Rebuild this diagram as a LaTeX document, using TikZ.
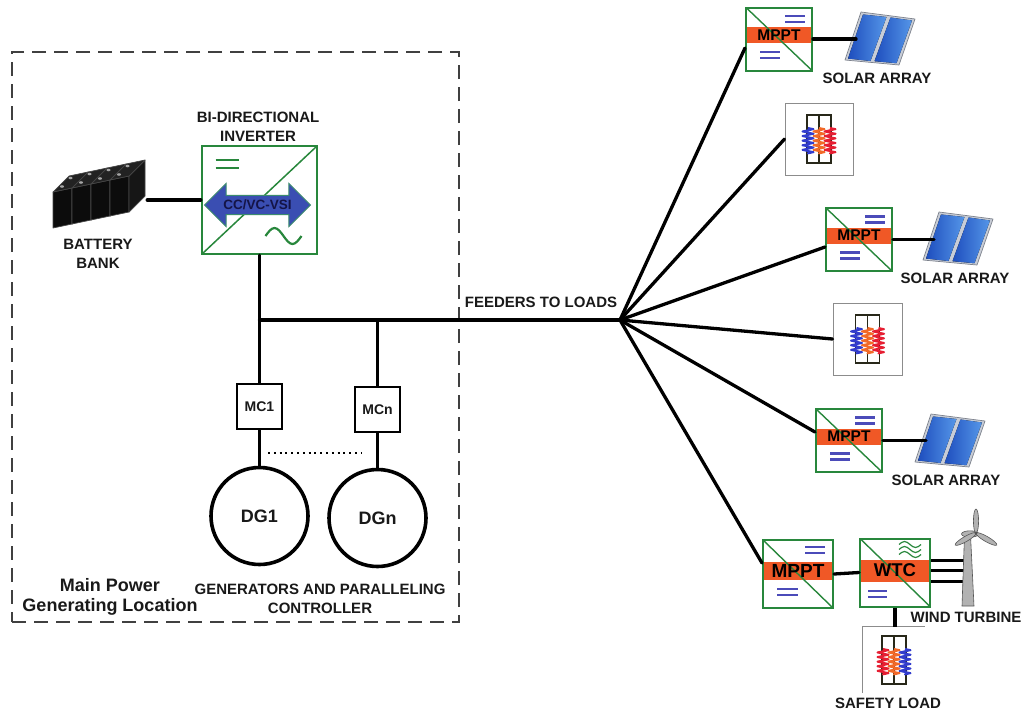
\documentclass[tikz,border=0pt]{standalone}
\usepackage{fontspec}
\setmainfont{Liberation Sans}
\usetikzlibrary{calc,shapes.arrows,shapes.geometric,decorations.pathmorphing}

\definecolor{cgreen}{RGB}{40,135,60}
\definecolor{corange}{RGB}{240,88,38}
\definecolor{cbar}{RGB}{75,75,185}
\definecolor{zblue}{RGB}{50,60,205}
\definecolor{zorange}{RGB}{242,105,40}
\definecolor{zred}{RGB}{230,30,50}
\definecolor{arrowblue}{RGB}{58,78,178}
\definecolor{arrowedge}{RGB}{60,140,110}
\definecolor{navy}{RGB}{20,20,70}
\definecolor{txt}{RGB}{25,25,25}
\definecolor{framegray}{RGB}{140,140,140}
\definecolor{heatframe}{RGB}{40,40,25}
\definecolor{batfront}{RGB}{12,12,12}
\definecolor{battop}{RGB}{34,34,34}
\definecolor{batside}{RGB}{22,22,22}
\definecolor{batedge}{RGB}{70,70,70}
\definecolor{panelframe}{RGB}{200,205,215}
\definecolor{paneledge}{RGB}{125,130,140}
\definecolor{cellA}{RGB}{30,78,190}
\definecolor{cellB}{RGB}{85,150,232}
\definecolor{turbfill}{RGB}{178,178,178}
\definecolor{turbedge}{RGB}{85,85,85}

\tikzset{
  wire/.style={line width=3.3pt, black, line cap=round, line join=round},
  lbl/.style={font=\fontsize{15}{19}\selectfont\bfseries, text=txt, align=center, inner sep=0pt},
  conv/.style={draw=cgreen, line width=2pt, fill=white, inner sep=0pt},
  mpptbox/.style={conv, minimum width=66pt, minimum height=63pt,
    path picture={
      \fill[corange] ($(path picture bounding box.west)+(0,-12)$) rectangle ($(path picture bounding box.east)+(0,4)$);
      \draw[cgreen, line width=1.4pt] (path picture bounding box.north west) -- (path picture bounding box.south east);
      \begin{scope}[shift={(path picture bounding box.center)}]
        \draw[cbar, line width=2.2pt] (6,-23) -- (26,-23) (6,-17) -- (26,-17)
                                      (-19,13) -- (1,13) (-19,19) -- (1,19);
      \end{scope}
    }},
  bigbox/.style={conv, minimum width=70pt, minimum height=68pt},
  mpptbig/.style={bigbox,
    path picture={
      \fill[corange] ($(path picture bounding box.west)+(0,-12)$) rectangle ($(path picture bounding box.east)+(0,6)$);
      \draw[cgreen, line width=1.4pt] (path picture bounding box.north west) -- (path picture bounding box.south east);
      \begin{scope}[shift={(path picture bounding box.center)}]
        \draw[cbar, line width=2.2pt] (7,-27) -- (27,-27) (7,-21) -- (27,-21)
                                      (-21,15) -- (0,15) (-21,21) -- (0,21);
      \end{scope}
    }},
  wtcbox/.style={bigbox,
    path picture={
      \fill[corange] ($(path picture bounding box.west)+(0,-13)$) rectangle ($(path picture bounding box.east)+(0,9)$);
      \draw[cgreen, line width=1.4pt] (path picture bounding box.north west) -- (path picture bounding box.south east);
      \begin{scope}[shift={(path picture bounding box.center)}]
        \foreach \yy in {-28,-23,-18}
          \draw[cgreen, line width=1.2pt] (4,\yy) sin (9.5,\yy-3) cos (15,\yy) sin (20.5,\yy+3) cos (26,\yy);
        \draw[cbar, line width=2.2pt] (-27,18.5) -- (-8,18.5) (-27,24.5) -- (-8,24.5);
      \end{scope}
    }},
  invbox/.style={conv, line width=2.4pt, minimum width=115pt, minimum height=108pt,
    path picture={
      \draw[cgreen, line width=1.5pt] (path picture bounding box.south west) -- (path picture bounding box.north east);
      \begin{scope}[shift={(path picture bounding box.center)}]
        \draw[cgreen, line width=2.2pt] (-44,-40) -- (-21,-40) (-44,-32) -- (-21,-32);
        \draw[cgreen, line width=2.2pt] (6,36) sin (15,28) cos (24,36) sin (33,44) cos (42,36);
      \end{scope}
    }},
  boxlbl/.style={font=\fontsize{15.5}{15.5}\selectfont\bfseries, text=black, inner sep=0pt},
  mcbox/.style={draw, line width=1.5pt, minimum size=45pt, inner sep=0pt, fill=white,
    font=\fontsize{14}{14}\selectfont\bfseries, text=txt},
  dg/.style={circle, draw, line width=3.6pt, minimum size=97pt, inner sep=0pt,
    font=\fontsize{18}{18}\selectfont\bfseries, text=txt},
  loadbox/.style={draw=framegray, line width=0.9pt, fill=white, inner sep=0pt},
  zone/.style={draw=black!75, dash pattern=on 14pt off 8pt, line width=1.4pt, inner sep=0pt,
    minimum width=447pt, minimum height=570pt},
  heater/.pic={
    \draw[heatframe, line width=1.7pt] (-12,-24) rectangle (12,24) (0,-24) -- (0,24);
    \foreach \c [count=\k from 0] in {#1}
      \draw[\c, line width=2pt, line join=round, decorate,
            decoration={zigzag, segment length=4.6pt, amplitude=5.5pt}]
        ({-11+11*\k},-11) -- ({-11+11*\k},15);
  },
  solarpanel/.pic={
    \filldraw[fill=panelframe, draw=paneledge, line width=0.7pt, line join=round]
      (0,0) -- (54,5) -- (70,-41) -- (16,-48) -- cycle;
    \fill[left color=cellA, right color=cellB] (3,-1.5) -- (25.5,1) -- (41.5,-43) -- (18,-45.5) -- cycle;
    \fill[left color=cellA, right color=cellB] (29.5,1.2) -- (51.5,3.2) -- (67,-39.5) -- (45.5,-42.5) -- cycle;
    \coordinate (-in) at (11,-22);
  }
}

\begin{document}
\begin{tikzpicture}[x=1pt,y=-1pt]
\useasboundingbox (0,0) rectangle (1026,713);

% ---------- main power generating location ----------
\node[zone] (zone) at (235.5,337) {};

% battery bank: four cells in a row
\node[minimum width=94pt, minimum height=64pt, inner sep=0pt] (bat) at (100,196) {};
\foreach \i in {0,1,2,3}{
  \begin{scope}[shift={({53+19*\i},{228-4*\i})}]
    \filldraw[fill=batfront, draw=batedge, line width=0.7pt, line join=round]
      (0,0) -- (19,-4) -- (19,-40) -- (0,-36) -- cycle;
    \filldraw[fill=batside, draw=batedge, line width=0.7pt, line join=round]
      (19,-4) -- (35,-20) -- (35,-56) -- (19,-40) -- cycle;
    \filldraw[fill=battop, draw=batedge, line width=0.7pt, line join=round]
      (0,-36) -- (19,-40) -- (35,-56) -- (16,-52) -- cycle;
    \fill[gray!70] (9,-41.5) ellipse (2 and 1.3) (17.5,-50) ellipse (2 and 1.3);
  \end{scope}
}
\node[lbl] (batlbl) at (98,254) {BATTERY\\BANK};

% bi-directional inverter
\node[invbox] (inv) at (259.5,200) {};
\node[double arrow, fill=arrowblue, draw=arrowedge, line width=1pt,
      minimum height=106pt, double arrow head extend=12pt, inner xsep=1pt, inner ysep=4pt,
      font=\fontsize{13.5}{13.5}\selectfont\bfseries, text=navy] (arr) at (257.5,205) {CC/VC-VSI};
\node[lbl] (invlbl) at (258,127) {BI-DIRECTIONAL\\INVERTER};

\draw[wire] (inv.west -| bat.east) -- (inv.west);

% AC bus and generator branches
\coordinate (hub) at (620,320);
\coordinate (j1) at (inv.south |- hub);
\node[mcbox] (mc1) at (259.5,406.5) {MC1};
\node[mcbox] (mcn) at (377.5,409.5) {MCn};
\coordinate (j2) at (mcn.north |- hub);
\node[dg] (dg1) at (259.5,516) {DG1};
\node[dg] (dgn) at (377.5,518) {DGn};

\draw[wire] (inv.south) -- (j1);
\draw[wire] (j1) -- (hub);
\draw[wire] (j1) -- (mc1.north);
\draw[wire] (j2) -- (mcn.north);
\draw[wire] (mc1.south) -- (dg1.north);
\draw[wire] (mcn.south) -- (dgn.north);

\coordinate (dotA) at (268,453);
\coordinate (dotB) at (362,453);
\draw[line width=1.7pt, dash pattern=on 2pt off 3.8pt] (dotA) -- (dotB);

\node[font=\fontsize{18}{20}\selectfont\bfseries, text=txt, align=center, inner sep=0pt]
  (mainlbl) at (110,597) {Main Power\\Generating Location};
\node[lbl] (genlbl) at (320,599) {GENERATORS AND PARALLELING\\CONTROLLER};

\node[lbl] (feedlbl) at (541,302) {FEEDERS TO LOADS};

% ---------- distributed sources and loads ----------
\node[mpptbox] (m1) at (779,39) {};
\node[boxlbl] (m1t) at ([yshift=4pt]m1.center) {MPPT};
\node[loadbox, minimum width=68pt, minimum height=72pt] (l1) at (819,139) {};
\pic at (l1) {heater={zblue,zorange,zred}};
\node[mpptbox] (m2) at (859,239.5) {};
\node[boxlbl] (m2t) at ([yshift=4pt]m2.center) {MPPT};
\node[loadbox, minimum width=69pt, minimum height=72pt] (l2) at (867.5,339) {};
\pic at (l2) {heater={zblue,zorange,zred}};
\node[mpptbox] (m3) at (849,440.5) {};
\node[boxlbl] (m3t) at ([yshift=4pt]m3.center) {MPPT};
\node[mpptbig] (m4) at (798,574) {};
\node[boxlbl, font=\fontsize{19}{19}\selectfont\bfseries] (m4t) at ([yshift=3pt]m4.center) {MPPT};
\node[wtcbox] (wtc) at (895,572.5) {};
\node[boxlbl, font=\fontsize{18.5}{18.5}\selectfont\bfseries] (wtct) at ([yshift=2pt]wtc.center) {WTC};

% feeders
\draw[wire] (hub) -- ([yshift=-9pt]m1.west);
\draw[wire] (hub) -- (l1.west);
\draw[wire] (hub) -- ([yshift=-7.5pt]m2.west);
\draw[wire] (hub) -- (l2.west);
\draw[wire] (hub) -- ([yshift=8.5pt]m3.west);
\draw[wire] (hub) -- ([yshift=11pt]m4.west);

% solar arrays
\pic (p1) at (845,60) {solarpanel};
\pic (p2) at (923,260) {solarpanel};
\pic (p3) at (915,462) {solarpanel};
\draw[wire] (m1.east) -- (m1.east -| p1-in);
\draw[wire] (m2.east) -- (m2.east -| p2-in);
\draw[wire] (m3.east) -- (m3.east -| p3-in);
\node[lbl] (s1lbl) at (877,78) {SOLAR ARRAY};
\node[lbl] (s2lbl) at (955,278) {SOLAR ARRAY};
\node[lbl] (s3lbl) at (946,480) {SOLAR ARRAY};

% wind turbine branch
\draw[wire] (m4.east) -- (wtc.west);
\coordinate (tower) at (967,572);
\draw[wire, line cap=butt] ([yshift=12pt]wtc.east) -- ([yshift=12pt]wtc.east -| tower);
\draw[wire, line cap=butt] ([yshift=2pt]wtc.east) -- ([yshift=2pt]wtc.east -| tower);
\draw[wire, line cap=butt] ([yshift=-9pt]wtc.east) -- ([yshift=-9pt]wtc.east -| tower);

\filldraw[fill=turbfill, draw=turbedge, line width=0.6pt] (964.5,535) -- (970.5,535) -- (974,606) -- (962,606) -- cycle;
\filldraw[fill=turbfill, draw=turbedge, line width=0.6pt] (970,534) ellipse (8.5 and 3.2);
\begin{scope}[shift={(976,533)}]
  \foreach \a in {0,120,240}
    \filldraw[rotate=\a, fill=turbfill, draw=turbedge, line width=0.6pt] (0,-12) ellipse (2.6 and 12);
  \fill[turbedge] (0,0) circle (1.7);
\end{scope}
\node[lbl] (wtlbl) at (966,617) {WIND TURBINE};

% safety load
\node[minimum width=62pt, minimum height=66pt, inner sep=0pt] (sl) at (894,660) {};
\draw[framegray, line width=0.9pt] (sl.south west) -- (sl.north west) -- (sl.north east);
\pic at (sl) {heater={zred,zorange,zblue}};
\draw[wire, line cap=butt] (wtc.south) -- (wtc.south |- sl.north);
\node[lbl] (sllbl) at (888,703) {SAFETY LOAD};

\end{tikzpicture}
\end{document}
